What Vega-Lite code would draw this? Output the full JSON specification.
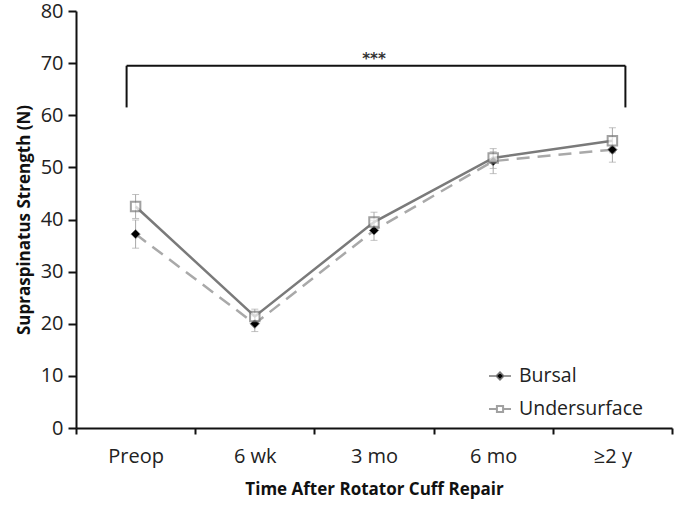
{
  "$schema": "https://vega.github.io/schema/vega-lite/v6.json",
  "width": 596,
  "height": 417,
  "autosize": {"type": "none"},
  "padding": {"left": 76, "top": 11, "right": 2, "bottom": 79},
  "background": "white",
  "config": {
    "font": "Open Sans",
    "view": {"stroke": null},
    "axis": {
      "grid": false,
      "domainColor": "#111",
      "domainWidth": 2,
      "tickColor": "#111",
      "tickWidth": 2,
      "labelFont": "Open Sans",
      "labelFontSize": 20,
      "labelColor": "#222",
      "titleFont": "Open Sans",
      "titleFontSize": 17,
      "titleFontWeight": "bold",
      "titleColor": "#111"
    },
    "legend": {"padding": 0}
  },
  "datasets": {
    "pts": [
      {"series": "Bursal", "time": "Preop", "value": 37.2, "lo": 34.5, "hi": 39.9},
      {"series": "Undersurface", "time": "Preop", "value": 42.5, "lo": 40.2, "hi": 44.8},
      {"series": "Bursal", "time": "6 wk", "value": 20.0, "lo": 18.5, "hi": 21.5},
      {"series": "Undersurface", "time": "6 wk", "value": 21.4, "lo": 20.0, "hi": 22.8},
      {"series": "Bursal", "time": "3 mo", "value": 37.9, "lo": 36.0, "hi": 39.8},
      {"series": "Undersurface", "time": "3 mo", "value": 39.5, "lo": 37.6, "hi": 41.4},
      {"series": "Bursal", "time": "6 mo", "value": 51.2, "lo": 48.8, "hi": 53.0},
      {"series": "Undersurface", "time": "6 mo", "value": 51.8, "lo": 49.8, "hi": 53.6},
      {"series": "Bursal", "time": "≥2 y", "value": 53.4, "lo": 51.0, "hi": 55.8},
      {"series": "Undersurface", "time": "≥2 y", "value": 55.1, "lo": 52.8, "hi": 57.6}
    ],
    "bracket": [
      {"time": "Preop", "time2": "≥2 y", "top": 69.5, "bottom": 61.5, "label": "***"}
    ]
  },
  "encoding": {
    "x": {
      "field": "time",
      "type": "nominal",
      "sort": ["Preop", "6 wk", "3 mo", "6 mo", "≥2 y"],
      "scale": {"domain": ["Preop", "6 wk", "3 mo", "6 mo", "≥2 y"], "paddingInner": 0, "paddingOuter": 0},
      "axis": {
        "title": "Time After Rotator Cuff Repair",
        "labelAngle": 0,
        "tickBand": "extent",
        "tickSize": 6,
        "labelPadding": 12,
        "titlePadding": 15
      }
    }
  },
  "layer": [
    {
      "data": {"name": "pts"},
      "mark": {"type": "rule", "color": "#a8a8a8", "strokeWidth": 1},
      "encoding": {
        "y": {"field": "lo", "type": "quantitative"},
        "y2": {"field": "hi"}
      }
    },
    {
      "data": {"name": "pts"},
      "mark": {"type": "tick", "color": "#a8a8a8", "thickness": 1, "size": 7, "orient": "horizontal"},
      "encoding": {"y": {"field": "lo", "type": "quantitative"}}
    },
    {
      "data": {"name": "pts"},
      "mark": {"type": "tick", "color": "#a8a8a8", "thickness": 1, "size": 7, "orient": "horizontal"},
      "encoding": {"y": {"field": "hi", "type": "quantitative"}}
    },
    {
      "data": {"name": "pts"},
      "transform": [{"filter": "datum.series === 'Bursal'"}],
      "mark": {"type": "line", "strokeWidth": 2.5, "color": "#a9a9a9", "strokeDash": [13, 8]},
      "encoding": {
        "y": {"field": "value", "type": "quantitative"}
      }
    },
    {
      "data": {"name": "pts"},
      "transform": [{"filter": "datum.series === 'Undersurface'"}],
      "mark": {"type": "line", "strokeWidth": 2.5, "color": "#7a7a7a"},
      "encoding": {
        "y": {"field": "value", "type": "quantitative"}
      }
    },
    {
      "data": {"name": "pts"},
      "transform": [{"filter": "datum.series === 'Bursal'"}],
      "mark": {"type": "point", "shape": "diamond", "filled": true, "fill": "#000", "stroke": "#777", "strokeWidth": 1, "opacity": 1, "size": 85},
      "encoding": {
        "y": {"field": "value", "type": "quantitative"},
        "opacity": {
          "field": "series",
          "type": "nominal",
          "scale": {"domain": ["Bursal"], "range": [1, 1]},
          "legend": {
            "title": null,
            "orient": "none",
            "legendX": 412,
            "legendY": 353,
            "symbolType": "M-1,0H-0.35M0.35,0H1M0,-0.35L0.35,0L0,0.35L-0.35,0Z",
            "symbolSize": 484,
            "labelFontSize": 19.5,
            "labelFont": "Open Sans",
            "labelColor": "#222",
            "labelOffset": 7
          }
        }
      }
    },
    {
      "data": {"name": "pts"},
      "transform": [{"filter": "datum.series === 'Undersurface'"}],
      "mark": {"type": "point", "shape": "square", "filled": false, "fill": "#fff", "stroke": "#7a7a7a", "strokeWidth": 2, "size": 90},
      "encoding": {
        "y": {
          "field": "value",
          "type": "quantitative",
          "scale": {"domain": [0, 80]},
          "axis": {
            "title": "Supraspinatus Strength (N)",
            "values": [0, 10, 20, 30, 40, 50, 60, 70, 80],
            "tickSize": 8,
            "labelPadding": 5,
            "titlePadding": 7
          }
        },
        "strokeWidth": {
          "field": "series",
          "type": "nominal",
          "scale": {"domain": ["Undersurface"], "range": [2, 2]},
          "legend": {
            "title": null,
            "orient": "none",
            "legendX": 412,
            "legendY": 386,
            "symbolType": "M-1,0H-0.28M0.28,0H1M-0.28,-0.28H0.28V0.28H-0.28Z",
            "symbolSize": 484,
            "labelFontSize": 19.5,
            "labelFont": "Open Sans",
            "labelColor": "#222",
            "labelOffset": 7
          }
        }
      }
    },
    {
      "data": {"name": "bracket"},
      "mark": {"type": "rule", "color": "#111", "strokeWidth": 2, "xOffset": -9, "x2Offset": 13},
      "encoding": {
        "x2": {"field": "time2"},
        "y": {"field": "top", "type": "quantitative"}
      }
    },
    {
      "data": {"name": "bracket"},
      "mark": {"type": "rule", "color": "#111", "strokeWidth": 2, "xOffset": -9},
      "encoding": {
        "y": {"field": "top", "type": "quantitative"},
        "y2": {"field": "bottom"}
      }
    },
    {
      "data": {"name": "bracket"},
      "mark": {"type": "rule", "color": "#111", "strokeWidth": 2, "xOffset": 13},
      "encoding": {
        "x": {"field": "time2", "type": "nominal"},
        "y": {"field": "top", "type": "quantitative"},
        "y2": {"field": "bottom"}
      }
    },
    {
      "data": {"name": "bracket"},
      "mark": {"type": "text", "fontSize": 15, "fontWeight": "bold", "color": "#333", "baseline": "alphabetic", "dy": -2, "font": "DejaVu Sans"},
      "encoding": {
        "x": {"datum": "3 mo"},
        "y": {"field": "top", "type": "quantitative"},
        "text": {"field": "label"}
      }
    }
  ]
}
